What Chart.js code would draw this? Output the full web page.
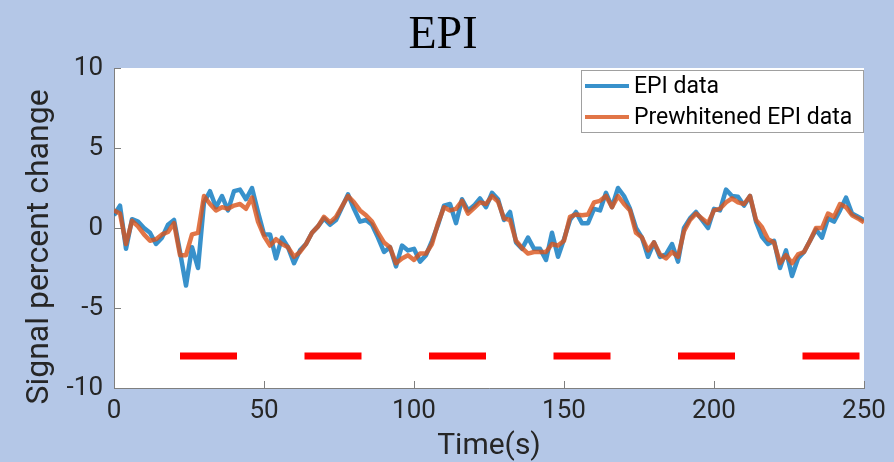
<!DOCTYPE html>
<html>
<head>
<meta charset="utf-8">
<script src="https://cdn.jsdelivr.net/npm/chart.js@4"></script>
<style>
  html, body { margin: 0; padding: 0; background: #b4c7e7; }
  #wrap { width: 894px; height: 462px; }
</style>
</head>
<body>
<div id="wrap"><canvas id="epiChart" width="894" height="462"></canvas></div>
<script>
// EPI time course, raw vs prewhitened, sampled every 2 s
const timeSec = [0,2,4,6,8,10,12,14,16,18,20,22,24,26,28,30,32,34,36,38,40,42,44,46,48,50,
  52,54,56,58,60,62,64,66,68,70,72,74,76,78,80,82,84,86,88,90,92,94,96,98,100,
  102,104,106,108,110,112,114,116,118,120,122,124,126,128,130,132,134,136,138,140,
  142,144,146,148,150,152,154,156,158,160,162,164,166,168,170,172,174,176,178,180,
  182,184,186,188,190,192,194,196,198,200,202,204,206,208,210,212,214,216,218,220,
  222,224,226,228,230,232,234,236,238,240,242,244,246,248,250];

const epiData = [0.8,1.4,-1.3,0.55,0.4,0.0,-0.3,-1.0,-0.6,0.2,0.5,-1.5,-3.6,-1.2,-2.5,1.6,
  2.3,1.3,2.0,1.1,2.3,2.4,1.8,2.5,1.0,-0.4,-0.4,-1.9,-0.6,-1.2,-2.2,-1.4,-1.0,-0.3,0.1,
  0.6,0.2,0.5,1.3,2.1,1.2,0.4,0.5,0.2,-0.6,-1.5,-1.2,-2.4,-1.1,-1.4,-1.3,-2.1,-1.7,-0.8,
  0.2,1.4,1.5,0.3,1.8,1.1,1.4,1.85,1.3,2.2,1.8,0.5,1.0,-0.9,-1.3,-0.6,-1.3,-1.3,-2.0,
  -0.3,-1.8,-0.7,0.5,1.0,0.3,0.3,1.2,1.1,2.2,1.3,2.5,2.0,1.2,0.0,-0.6,-1.8,-0.9,-1.8,
  -1.65,-1.0,-2.1,0.0,0.6,1.0,0.5,0.0,1.2,1.1,2.4,2.0,1.96,1.4,2.0,0.4,-0.55,-1.0,-0.8,
  -2.5,-1.4,-3.0,-1.9,-1.5,-0.8,-0.1,-0.6,0.6,0.4,1.1,1.9,0.9,0.7,0.5];

const prewhitened = [1.1,0.9,-1.0,0.45,0.1,-0.4,-0.8,-0.7,-0.4,-0.25,0.3,-1.7,-1.7,-0.4,-0.3,2.0,
  1.5,1.1,1.3,1.2,1.4,1.5,1.2,1.9,0.4,-0.5,-1.1,-0.7,-1.0,-1.2,-1.8,-1.5,-1.0,-0.3,0.1,
  0.7,0.35,0.7,1.35,2.0,1.6,1.1,0.8,0.4,-0.3,-0.9,-1.2,-2.2,-1.9,-1.7,-2.0,-1.6,-1.6,-1.0,
  0.3,1.3,1.1,1.2,1.7,0.9,1.25,1.6,1.5,2.0,1.65,0.6,0.5,-0.8,-1.25,-1.6,-1.5,-1.5,-1.5,
  -1.0,-1.1,-0.8,0.7,0.85,0.8,0.85,1.6,1.7,2.0,1.3,2.0,1.5,1.1,-0.3,-0.6,-1.4,-0.9,-1.65,
  -1.9,-1.5,-1.8,-0.2,0.5,0.9,0.6,0.3,1.1,1.2,1.6,1.85,1.6,1.5,2.0,0.5,0.05,-0.7,-0.9,
  -2.2,-1.7,-2.2,-1.65,-1.5,-0.8,0.0,0.0,0.9,0.7,1.5,1.3,0.8,0.6,0.35];

// task blocks (start, end in seconds), drawn at y = -8
const blockStart = [22, 63.5, 105, 146.5, 188, 229.5];
const blockEnd = [41, 82.5, 124, 165.5, 207, 248.5];
const blockLevel = -8;

const xTicks = [0, 50, 100, 150, 200, 250];
const yTicks = [-10, -5, 0, 5, 10];

const blueLine = 'rgba(0, 114, 189, 0.78)';
const orangeLine = 'rgba(217, 83, 25, 0.8)';
const axisGrey = '#7f7f7f';
const textDark = '#262626';

// one dataset for all red bars, broken with nulls
const blockPoints = [];
blockStart.forEach((s, i) => {
  blockPoints.push({ x: s, y: blockLevel });
  blockPoints.push({ x: blockEnd[i], y: blockLevel });
  blockPoints.push({ x: blockEnd[i], y: null });
});

// matlab-like extras: inward ticks, titles, legend box
const extras = {
  id: 'extras',
  beforeDraw(chart) {
    const { ctx, chartArea: a } = chart;
    ctx.save();
    ctx.fillStyle = '#ffffff';
    ctx.fillRect(a.left, a.top, a.right - a.left, a.bottom - a.top);
    ctx.restore();
  },
  afterDraw(chart) {
    const { ctx, chartArea: a, scales } = chart;
    ctx.save();

    // inward tick marks
    ctx.strokeStyle = axisGrey;
    ctx.lineWidth = 1;
    ctx.beginPath();
    xTicks.forEach(v => {
      const px = Math.round(scales.x.getPixelForValue(v)) + 0.5;
      ctx.moveTo(px, a.bottom);
      ctx.lineTo(px, a.bottom - 7);
    });
    yTicks.forEach(v => {
      const py = Math.round(scales.y.getPixelForValue(v)) + 0.5;
      ctx.moveTo(a.left, py);
      ctx.lineTo(a.left + 7, py);
    });
    ctx.stroke();

    // chart title
    ctx.fillStyle = '#000000';
    ctx.font = '46px "Liberation Serif", "Times New Roman", serif';
    ctx.textAlign = 'center';
    ctx.textBaseline = 'alphabetic';
    ctx.fillText('EPI', 443, 48);

    // axis titles
    ctx.fillStyle = textDark;
    ctx.font = '30px Roboto, sans-serif';
    ctx.fillText('Time(s)', (a.left + a.right) / 2, 454);

    ctx.save();
    ctx.translate(48, 247);
    ctx.rotate(-Math.PI / 2);
    ctx.font = '32px Roboto, sans-serif';
    ctx.fillText('Signal percent change', 0, 0);
    ctx.restore();

    // legend
    const lx = 581.5, ly = 70.5, lw = 282, lh = 62;
    ctx.fillStyle = '#ffffff';
    ctx.fillRect(lx, ly, lw, lh);
    ctx.strokeStyle = '#a0a0a0';
    ctx.lineWidth = 1;
    ctx.strokeRect(lx, ly, lw, lh);
    const items = chart.data.datasets.filter(d => !d.hideInLegend);
    ctx.font = '23px Roboto, sans-serif';
    ctx.textAlign = 'left';
    ctx.textBaseline = 'middle';
    items.forEach((d, i) => {
      const cy = 86 + i * 31;
      ctx.strokeStyle = d.borderColor;
      ctx.lineWidth = 4;
      ctx.beginPath();
      ctx.moveTo(585, cy);
      ctx.lineTo(629, cy);
      ctx.stroke();
      ctx.fillStyle = '#000000';
      ctx.fillText(d.label, 634, cy + 1);
    });
    ctx.restore();
  }
};

const ctx = document.getElementById('epiChart').getContext('2d');
new Chart(ctx, {
  type: 'line',
  data: {
    datasets: [
      {
        label: 'EPI data',
        data: timeSec.map((t, i) => ({ x: t, y: epiData[i] })),
        borderColor: blueLine,
        borderWidth: 4.5,
        pointRadius: 0,
        tension: 0,
        borderJoinStyle: 'round',
        order: 3
      },
      {
        label: 'Prewhitened EPI data',
        data: timeSec.map((t, i) => ({ x: t, y: prewhitened[i] })),
        borderColor: orangeLine,
        borderWidth: 4.5,
        pointRadius: 0,
        tension: 0,
        borderJoinStyle: 'round',
        order: 2
      },
      {
        label: 'blocks',
        hideInLegend: true,
        data: blockPoints,
        borderColor: '#ff0000',
        borderWidth: 7,
        borderCapStyle: 'butt',
        pointRadius: 0,
        spanGaps: false,
        order: 1
      }
    ]
  },
  options: {
    responsive: false,
    animation: false,
    layout: { padding: { top: 68, right: 30, left: 0, bottom: 0 } },
    plugins: {
      legend: { display: false },
      title: { display: false },
      tooltip: { enabled: false }
    },
    scales: {
      x: {
        type: 'linear',
        min: 0,
        max: 250,
        afterBuildTicks: scale => { scale.ticks = xTicks.map(v => ({ value: v })); },
        afterFit: scale => { scale.height = 74; },
        grid: { display: false, drawTicks: false },
        border: { display: true, color: axisGrey, width: 1 },
        ticks: {
          color: textDark,
          font: { family: 'Roboto, sans-serif', size: 26 },
          padding: 8,
          maxRotation: 0
        }
      },
      y: {
        min: -10,
        max: 10,
        afterBuildTicks: scale => { scale.ticks = yTicks.map(v => ({ value: v })); },
        afterFit: scale => { scale.width = 114; },
        grid: { display: false, drawTicks: false },
        border: { display: true, color: axisGrey, width: 1 },
        ticks: {
          color: textDark,
          font: { family: 'Roboto, sans-serif', size: 26 },
          padding: 11
        }
      }
    }
  },
  plugins: [extras]
});
</script>
</body>
</html>
